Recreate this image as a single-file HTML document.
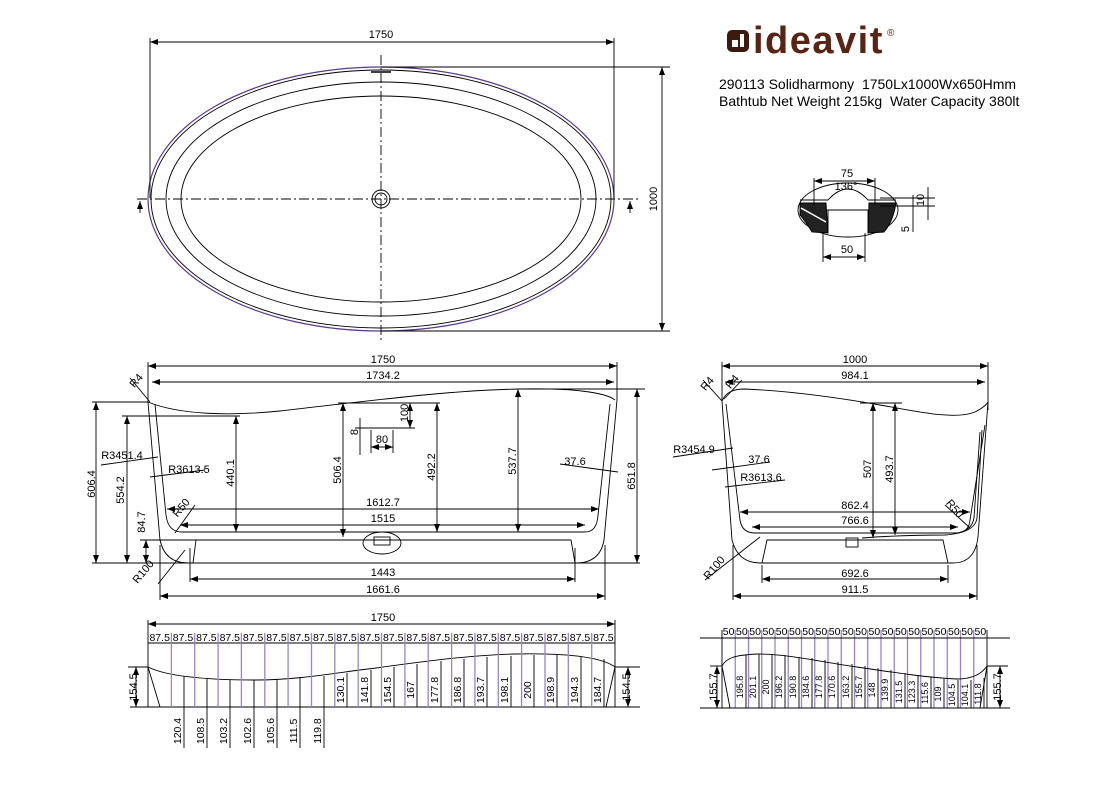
<!DOCTYPE html>
<html><head><meta charset="utf-8"><style>
html,body{margin:0;padding:0;background:#fff;}
svg{display:block;font-family:"Liberation Sans",sans-serif;}
</style></head><body>
<svg width="1118" height="787" viewBox="0 0 1118 787" xmlns="http://www.w3.org/2000/svg">
<defs>
<marker id="a" markerWidth="8" markerHeight="6" refX="8" refY="3" orient="auto-start-reverse" markerUnits="userSpaceOnUse"><path d="M0,0 L8,3 L0,6 z" fill="#000"/></marker>
</defs>
<g fill="none" stroke="#000" stroke-width="0.9">
<!-- TOP VIEW -->
<ellipse cx="381" cy="199" rx="233" ry="132" stroke="#5b3a8c" stroke-width="1.2"/>
<ellipse cx="381" cy="199" rx="230" ry="129"/>
<ellipse cx="381" cy="199" rx="215" ry="117"/>
<ellipse cx="381" cy="199" rx="200" ry="103"/>
<circle cx="381" cy="199" r="9"/><circle cx="381" cy="199" r="6"/>
<line x1="137" y1="199" x2="640" y2="199" stroke-dasharray="10,3,2,3"/>
<line x1="381" y1="55" x2="381" y2="342" stroke-dasharray="10,3,2,3"/>
<line x1="371" y1="72" x2="391" y2="72" stroke-width="1.5"/>
<line x1="150" y1="38" x2="150" y2="198"/><line x1="614" y1="38" x2="614" y2="198"/>
<line x1="150" y1="42" x2="614" y2="42" marker-start="url(#a)" marker-end="url(#a)"/>
<line x1="381" y1="67" x2="670" y2="67"/><line x1="381" y1="331" x2="670" y2="331"/>
<line x1="662" y1="67" x2="662" y2="331" marker-start="url(#a)" marker-end="url(#a)"/>
<line x1="140" y1="201" x2="140" y2="213" marker-start="url(#a)"/>
<line x1="630" y1="201" x2="630" y2="213" marker-start="url(#a)"/>

<!-- DRAIN DETAIL -->
<ellipse cx="848" cy="210" rx="50" ry="27"/>
<path d="M800,200 L828,200 Q848,178 868,200 L896,200 M822,210 L874,210 M828,210 L828,233 M868,210 L868,233"/>
<path d="M800,203 L826,203 L828,233 L812,232 Q806,222 800,215 Z" fill="#222"/>
<path d="M869,203 L896,203 Q893,222 884,232 L868,233 Z" fill="#222"/>
<line x1="801" y1="208" x2="826" y2="222" stroke="#fff" stroke-width="1.5"/>
<line x1="814" y1="178" x2="814" y2="205"/><line x1="875" y1="178" x2="875" y2="205"/>
<line x1="814" y1="181" x2="875" y2="181" marker-start="url(#a)" marker-end="url(#a)"/>
<line x1="823" y1="233" x2="823" y2="262"/><line x1="865" y1="233" x2="865" y2="262"/>
<line x1="823" y1="257" x2="865" y2="257" marker-start="url(#a)" marker-end="url(#a)"/>
<line x1="880" y1="198" x2="935" y2="198"/><line x1="880" y1="206" x2="935" y2="206"/>
<line x1="928" y1="187" x2="928" y2="220"/><line x1="913" y1="195" x2="913" y2="232"/>

<!-- FRONT SECTION -->
<path d="M148,402 C180,415 230,416 280,411 C360,402 450,390 520,389 C570,388 605,392 615,400"/>
<path d="M148,402 L160,540 Q165,563 188,563 L576,563 Q600,563 604,540 L617,400"/>
<path d="M155,404 L166,515 Q168,532 182,532 L585,532 Q597,532 598,515 L610,404"/>
<path d="M193,563 L196,540 L571,540 L575,563"/>
<ellipse cx="382" cy="543" rx="19" ry="11"/>
<rect x="374" y="537" width="16" height="8"/>
<line x1="148" y1="362" x2="148" y2="402"/><line x1="617" y1="362" x2="617" y2="400"/>
<line x1="148" y1="366" x2="617" y2="366" marker-start="url(#a)" marker-end="url(#a)"/>
<line x1="152" y1="382" x2="614" y2="382" marker-start="url(#a)" marker-end="url(#a)"/>
<line x1="92" y1="563" x2="640" y2="563"/>
<line x1="92" y1="402" x2="148" y2="402"/><line x1="96" y1="402" x2="96" y2="563" marker-start="url(#a)" marker-end="url(#a)"/>
<line x1="122" y1="416" x2="240" y2="416"/><line x1="127" y1="416" x2="127" y2="563" marker-start="url(#a)" marker-end="url(#a)"/>
<line x1="140" y1="540" x2="196" y2="540"/><line x1="146" y1="540" x2="146" y2="563" marker-start="url(#a)" marker-end="url(#a)"/>
<line x1="520" y1="389" x2="645" y2="389"/><line x1="637" y1="389" x2="637" y2="563" marker-start="url(#a)" marker-end="url(#a)"/>
<line x1="236" y1="416" x2="236" y2="532" marker-start="url(#a)" marker-end="url(#a)"/>
<line x1="338" y1="403" x2="440" y2="403"/>
<line x1="343" y1="403" x2="343" y2="537" marker-start="url(#a)" marker-end="url(#a)"/>
<line x1="437" y1="403" x2="437" y2="532" marker-start="url(#a)" marker-end="url(#a)"/>
<line x1="518" y1="389" x2="518" y2="532" marker-start="url(#a)" marker-end="url(#a)"/>
<line x1="410" y1="403" x2="410" y2="428" marker-start="url(#a)" marker-end="url(#a)"/>
<line x1="355" y1="428" x2="415" y2="428"/>
<line x1="360" y1="418" x2="360" y2="455"/><line x1="371" y1="430" x2="371" y2="453"/><line x1="393" y1="430" x2="393" y2="453"/>
<line x1="371" y1="447" x2="393" y2="447" marker-start="url(#a)" marker-end="url(#a)"/>
<line x1="167" y1="509" x2="599" y2="509" marker-start="url(#a)" marker-end="url(#a)"/>
<line x1="180" y1="525" x2="585" y2="525" marker-start="url(#a)" marker-end="url(#a)"/>
<line x1="190" y1="548" x2="190" y2="582"/><line x1="575" y1="548" x2="575" y2="582"/>
<line x1="190" y1="579" x2="575" y2="579" marker-start="url(#a)" marker-end="url(#a)"/>
<line x1="160" y1="545" x2="160" y2="600"/><line x1="605" y1="545" x2="605" y2="600"/>
<line x1="160" y1="596" x2="605" y2="596" marker-start="url(#a)" marker-end="url(#a)"/>
<line x1="130" y1="378" x2="150" y2="402"/>
<line x1="101" y1="465" x2="158" y2="457"/><line x1="150" y1="477" x2="205" y2="470"/>
<line x1="560" y1="464" x2="618" y2="472"/>
<line x1="175" y1="533" x2="195" y2="505"/>
<line x1="158" y1="584" x2="185" y2="550"/>

<!-- SIDE SECTION -->
<path d="M722,401 C726,392 733,389 745,389 C790,391 840,398 880,405 C920,412 955,420 975,412 C983,408 987,404 988,402"/>
<path d="M722,401 L732,540 Q738,563 760,563 L953,563 Q975,563 978,537 L988,402"/>
<path d="M726,404 L740,520 Q742,533 755,533 L955,533 Q969,533 970,520 L985,425"/>
<path d="M958,533 Q972,530 974,518 L980,432 M862,538 Q900,535 945,535 Q975,533 977,518 L982,430"/>
<path d="M762,563 L767,540 L943,540 L948,563"/>
<rect x="846" y="538" width="12" height="9"/>
<line x1="722" y1="362" x2="722" y2="401"/><line x1="988" y1="362" x2="988" y2="410"/>
<line x1="722" y1="366" x2="988" y2="366" marker-start="url(#a)" marker-end="url(#a)"/>
<line x1="725" y1="382" x2="985" y2="382" marker-start="url(#a)" marker-end="url(#a)"/>
<line x1="860" y1="403" x2="902" y2="403"/>
<line x1="873" y1="403" x2="873" y2="538" marker-start="url(#a)" marker-end="url(#a)"/>
<line x1="895" y1="403" x2="895" y2="535" marker-start="url(#a)" marker-end="url(#a)"/>
<line x1="740" y1="512" x2="970" y2="512" marker-start="url(#a)" marker-end="url(#a)"/>
<line x1="752" y1="527" x2="958" y2="527" marker-start="url(#a)" marker-end="url(#a)"/>
<line x1="762" y1="565" x2="762" y2="583"/><line x1="948" y1="565" x2="948" y2="583"/>
<line x1="762" y1="579" x2="948" y2="579" marker-start="url(#a)" marker-end="url(#a)"/>
<line x1="733" y1="545" x2="733" y2="600"/><line x1="977" y1="545" x2="977" y2="600"/>
<line x1="733" y1="596" x2="977" y2="596" marker-start="url(#a)" marker-end="url(#a)"/>
<line x1="703" y1="380" x2="722" y2="401"/><line x1="724" y1="399" x2="742" y2="380"/>
<line x1="673" y1="457" x2="733" y2="448"/><line x1="712" y1="470" x2="770" y2="462"/><line x1="725" y1="487" x2="785" y2="480"/>
<line x1="705" y1="580" x2="760" y2="537"/><line x1="945" y1="505" x2="970" y2="528"/>

<!-- BOTTOM LEFT ELEVATION -->
<line x1="148" y1="620" x2="148" y2="707"/><line x1="615" y1="620" x2="615" y2="707"/>
<line x1="148" y1="624" x2="615" y2="624" marker-start="url(#a)" marker-end="url(#a)"/>
<line x1="148" y1="643" x2="615" y2="643"/>
<line x1="130" y1="707" x2="640" y2="707"/>
<path d="M148,667 C170,678 220,680 256,680 C300,680 340,672 376,668 C420,662 470,655 514,654 C560,653 600,656 615,667"/>
<path d="M148,667 L160,707 M615,667 L606,707"/>
<line x1="128" y1="667" x2="148" y2="667"/><line x1="615" y1="667" x2="640" y2="667"/>
<line x1="136" y1="667" x2="136" y2="707" marker-start="url(#a)" marker-end="url(#a)"/>
<line x1="628" y1="667" x2="628" y2="707" marker-start="url(#a)" marker-end="url(#a)"/>
</g>
<g stroke="#9b86c4" stroke-width="1.3">
<line x1="171.4" y1="633" x2="171.4" y2="707"/><line x1="194.7" y1="633" x2="194.7" y2="707"/><line x1="218.1" y1="633" x2="218.1" y2="707"/><line x1="241.4" y1="633" x2="241.4" y2="707"/><line x1="264.8" y1="633" x2="264.8" y2="707"/><line x1="288.1" y1="633" x2="288.1" y2="707"/><line x1="311.5" y1="633" x2="311.5" y2="707"/><line x1="334.8" y1="633" x2="334.8" y2="707"/><line x1="358.2" y1="633" x2="358.2" y2="707"/><line x1="381.5" y1="633" x2="381.5" y2="707"/><line x1="404.9" y1="633" x2="404.9" y2="707"/><line x1="428.2" y1="633" x2="428.2" y2="707"/><line x1="451.6" y1="633" x2="451.6" y2="707"/><line x1="474.9" y1="633" x2="474.9" y2="707"/><line x1="498.3" y1="633" x2="498.3" y2="707"/><line x1="521.6" y1="633" x2="521.6" y2="707"/><line x1="545" y1="633" x2="545" y2="707"/><line x1="568.3" y1="633" x2="568.3" y2="707"/><line x1="591.7" y1="633" x2="591.7" y2="707"/>
<line x1="735.25" y1="630" x2="735.25" y2="708"/><line x1="748.5" y1="630" x2="748.5" y2="708"/><line x1="761.75" y1="630" x2="761.75" y2="708"/><line x1="775" y1="630" x2="775" y2="708"/><line x1="788.25" y1="630" x2="788.25" y2="708"/><line x1="801.5" y1="630" x2="801.5" y2="708"/><line x1="814.75" y1="630" x2="814.75" y2="708"/><line x1="828" y1="630" x2="828" y2="708"/><line x1="841.25" y1="630" x2="841.25" y2="708"/><line x1="854.5" y1="630" x2="854.5" y2="708"/><line x1="867.75" y1="630" x2="867.75" y2="708"/><line x1="881" y1="630" x2="881" y2="708"/><line x1="894.25" y1="630" x2="894.25" y2="708"/><line x1="907.5" y1="630" x2="907.5" y2="708"/><line x1="920.75" y1="630" x2="920.75" y2="708"/><line x1="934" y1="630" x2="934" y2="708"/><line x1="947.25" y1="630" x2="947.25" y2="708"/><line x1="960.5" y1="630" x2="960.5" y2="708"/><line x1="973.75" y1="630" x2="973.75" y2="708"/>
</g>
<g stroke="#000" stroke-width="0.9" fill="none">
<line x1="184" y1="676" x2="184" y2="748"/><line x1="207" y1="679" x2="207" y2="748"/><line x1="230" y1="680" x2="230" y2="748"/><line x1="254" y1="680" x2="254" y2="748"/><line x1="277" y1="680" x2="277" y2="748"/><line x1="300" y1="678" x2="300" y2="748"/><line x1="324" y1="676" x2="324" y2="748"/>
<line x1="347" y1="673" x2="347" y2="707"/><line x1="371" y1="670" x2="371" y2="707"/><line x1="394" y1="667" x2="394" y2="707"/><line x1="417" y1="664" x2="417" y2="707"/><line x1="441" y1="661" x2="441" y2="707"/><line x1="464" y1="659" x2="464" y2="707"/><line x1="487" y1="657" x2="487" y2="707"/><line x1="511" y1="656" x2="511" y2="707"/><line x1="534" y1="655" x2="534" y2="707"/><line x1="557" y1="655" x2="557" y2="707"/><line x1="581" y1="657" x2="581" y2="707"/><line x1="604" y1="659" x2="604" y2="707"/>
<line x1="700" y1="638" x2="1010" y2="638"/>
<line x1="722" y1="630" x2="722" y2="708"/><line x1="987" y1="630" x2="987" y2="708"/>
<line x1="700" y1="708" x2="1010" y2="708"/>
<path d="M722,666 C726,658 735,655 757,654 C790,654 820,662 857,667 C890,672 930,678 957,679 C975,679 983,672 987,666"/>
<path d="M722,666 L730,708 M987,666 L980,708"/>
<line x1="710" y1="666" x2="722" y2="666"/><line x1="987" y1="666" x2="1008" y2="666"/>
<line x1="717" y1="666" x2="717" y2="708" marker-start="url(#a)" marker-end="url(#a)"/>
<line x1="1000" y1="666" x2="1000" y2="708" marker-start="url(#a)" marker-end="url(#a)"/>
<line x1="746" y1="655" x2="746" y2="708"/><line x1="759" y1="654" x2="759" y2="708"/><line x1="772" y1="654" x2="772" y2="708"/><line x1="785" y1="655" x2="785" y2="708"/><line x1="799" y1="657" x2="799" y2="708"/><line x1="812" y1="658" x2="812" y2="708"/><line x1="825" y1="660" x2="825" y2="708"/><line x1="838" y1="662" x2="838" y2="708"/><line x1="852" y1="664" x2="852" y2="708"/><line x1="865" y1="666" x2="865" y2="708"/><line x1="878" y1="668" x2="878" y2="708"/><line x1="891" y1="670" x2="891" y2="708"/><line x1="905" y1="673" x2="905" y2="708"/><line x1="918" y1="675" x2="918" y2="708"/><line x1="931" y1="677" x2="931" y2="708"/><line x1="944" y1="679" x2="944" y2="708"/><line x1="958" y1="680" x2="958" y2="708"/><line x1="971" y1="680" x2="971" y2="708"/><line x1="984" y1="678" x2="984" y2="708"/>
</g>

<!-- LOGO -->
<rect x="727" y="30" width="22" height="22" rx="5" fill="#3b1a10"/>
<rect x="732" y="40" width="6" height="7" fill="#fff"/><rect x="740" y="34" width="4" height="13" fill="#fff"/>
<text x="753" y="53" font-size="38" font-weight="bold" fill="#5a2415" letter-spacing="1.5">ideavit</text>
<text x="887" y="36" font-size="10" fill="#5a2415">®</text>
<text x="719" y="89" font-size="14" fill="#000" xml:space="preserve">290113 Solidharmony  1750Lx1000Wx650Hmm</text>
<text x="719" y="106" font-size="14" fill="#000" xml:space="preserve">Bathtub Net Weight 215kg  Water Capacity 380lt</text>

<g font-size="11" fill="#000" text-anchor="middle">
<text x="381" y="38">1750</text>
<text transform="translate(657,199) rotate(-90)">1000</text>
<text x="847" y="177">75</text><text x="846" y="190">136°</text><text x="847" y="253">50</text>
<text transform="translate(924,200) rotate(-90)">10</text><text transform="translate(909,229) rotate(-90)">5</text>

<text x="383" y="363">1750</text><text x="383" y="379">1734.2</text>
<text x="383" y="506">1612.7</text><text x="383" y="522">1515</text>
<text x="383" y="576">1443</text><text x="383" y="593">1661.6</text>
<text transform="translate(95,484) rotate(-90)">606.4</text>
<text transform="translate(124,490) rotate(-90)">554.2</text>
<text transform="translate(145,522) rotate(-90)">84.7</text>
<text transform="translate(635,476) rotate(-90)">651.8</text>
<text transform="translate(234,473) rotate(-90)">440.1</text>
<text transform="translate(341,470) rotate(-90)">506.4</text>
<text transform="translate(435,467) rotate(-90)">492.2</text>
<text transform="translate(516,461) rotate(-90)">537.7</text>
<text transform="translate(408,413) rotate(-90)">100</text>
<text transform="translate(358,432) rotate(-90)">8</text>
<text x="382" y="443">80</text>
<text x="575" y="465">37.6</text>
<text x="122" y="459">R3451.4</text><text x="189" y="473">R3613.5</text>
<text transform="translate(139,383) rotate(-50)">R4</text>
<text transform="translate(184,510) rotate(-50)">R50</text>
<text transform="translate(146,574) rotate(-50)">R100</text>

<text x="855" y="363">1000</text><text x="855" y="379">984.1</text>
<text transform="translate(871,469) rotate(-90)">507</text>
<text transform="translate(893,469) rotate(-90)">493.7</text>
<text x="855" y="509">862.4</text><text x="855" y="524">766.6</text>
<text x="855" y="577">692.6</text><text x="855" y="593">911.5</text>
<text x="694" y="453">R3454.9</text><text x="759" y="463">37.6</text><text x="761" y="481">R3613.6</text>
<text transform="translate(710,386) rotate(-50)">R4</text>
<text transform="translate(735,384) rotate(-50)">R4</text>
<text transform="translate(952,511) rotate(50)">R50</text>
<text transform="translate(717,570) rotate(-50)">R100</text>

<text x="383" y="621">1750</text>
<text transform="translate(137,687) rotate(-90)">154.5</text>
<text transform="translate(630,687) rotate(-90)">154.5</text>
<text transform="translate(717,687) rotate(-90)">155.7</text>
<text transform="translate(1001,687) rotate(-90)">155.7</text>
</g>
<g font-size="10.5" fill="#000" text-anchor="middle">
<text x="159.7" y="641">87.5</text><text x="183" y="641">87.5</text><text x="206.4" y="641">87.5</text><text x="229.8" y="641">87.5</text><text x="253.1" y="641">87.5</text><text x="276.5" y="641">87.5</text><text x="299.8" y="641">87.5</text><text x="323.2" y="641">87.5</text><text x="346.5" y="641">87.5</text><text x="369.9" y="641">87.5</text><text x="393.2" y="641">87.5</text><text x="416.6" y="641">87.5</text><text x="439.9" y="641">87.5</text><text x="463.3" y="641">87.5</text><text x="486.6" y="641">87.5</text><text x="510" y="641">87.5</text><text x="533.3" y="641">87.5</text><text x="556.7" y="641">87.5</text><text x="580" y="641">87.5</text><text x="603.4" y="641">87.5</text>
<text x="728.6" y="635">50</text><text x="741.9" y="635">50</text><text x="755.1" y="635">50</text><text x="768.4" y="635">50</text><text x="781.6" y="635">50</text><text x="794.9" y="635">50</text><text x="808.1" y="635">50</text><text x="821.4" y="635">50</text><text x="834.6" y="635">50</text><text x="847.9" y="635">50</text><text x="861.1" y="635">50</text><text x="874.4" y="635">50</text><text x="887.6" y="635">50</text><text x="900.9" y="635">50</text><text x="914.1" y="635">50</text><text x="927.4" y="635">50</text><text x="940.6" y="635">50</text><text x="953.9" y="635">50</text><text x="967.1" y="635">50</text><text x="980.4" y="635">50</text>
<text transform="translate(181,731) rotate(-90)">120.4</text><text transform="translate(204,731) rotate(-90)">108.5</text><text transform="translate(227,731) rotate(-90)">103.2</text><text transform="translate(251,731) rotate(-90)">102.6</text><text transform="translate(274,731) rotate(-90)">105.6</text><text transform="translate(297,731) rotate(-90)">111.5</text><text transform="translate(321,731) rotate(-90)">119.8</text>
<text transform="translate(344,690) rotate(-90)">130.1</text><text transform="translate(368,690) rotate(-90)">141.8</text><text transform="translate(391,690) rotate(-90)">154.5</text><text transform="translate(414,690) rotate(-90)">167</text><text transform="translate(438,690) rotate(-90)">177.8</text><text transform="translate(461,690) rotate(-90)">186.8</text><text transform="translate(484,690) rotate(-90)">193.7</text><text transform="translate(508,690) rotate(-90)">198.1</text><text transform="translate(531,690) rotate(-90)">200</text><text transform="translate(554,690) rotate(-90)">198.9</text><text transform="translate(578,690) rotate(-90)">194.3</text><text transform="translate(601,690) rotate(-90)">184.7</text>
</g>
<g font-size="9" fill="#000" text-anchor="middle">
<text transform="translate(743,687) rotate(-90)">195.8</text><text transform="translate(756,687) rotate(-90)">201.1</text><text transform="translate(769,687) rotate(-90)">200</text><text transform="translate(782,687) rotate(-90)">196.2</text><text transform="translate(796,687) rotate(-90)">190.8</text><text transform="translate(809,687) rotate(-90)">184.6</text><text transform="translate(822,687) rotate(-90)">177.8</text><text transform="translate(835,687) rotate(-90)">170.6</text><text transform="translate(849,687) rotate(-90)">163.2</text><text transform="translate(862,687) rotate(-90)">155.7</text><text transform="translate(875,690) rotate(-90)">148</text><text transform="translate(888,690) rotate(-90)">139.9</text><text transform="translate(902,692) rotate(-90)">131.5</text><text transform="translate(915,692) rotate(-90)">123.3</text><text transform="translate(928,693) rotate(-90)">115.6</text><text transform="translate(941,694) rotate(-90)">109</text><text transform="translate(955,695) rotate(-90)">104.5</text><text transform="translate(968,695) rotate(-90)">104.1</text><text transform="translate(981,694) rotate(-90)">111.8</text>
</g>
</svg>
</body></html>
